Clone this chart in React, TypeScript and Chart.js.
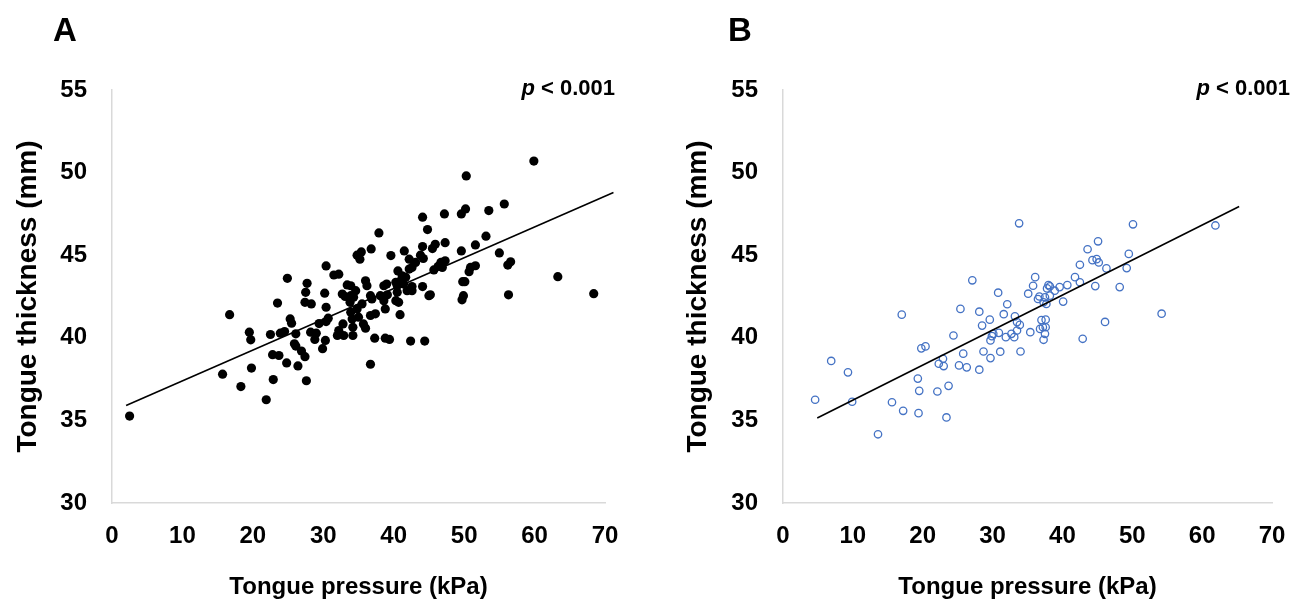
import React, { useEffect, useRef } from "react";
import { Chart, registerables } from "chart.js";
Chart.register(...registerables);

const FONT = '"Liberation Sans", Arial, Helvetica, sans-serif';

const xTicks = [0, 10, 20, 30, 40, 50, 60, 70];
const yTicks = [30, 35, 40, 45, 50, 55];
const xTitle = "Tongue pressure (kPa)";
const yTitle = "Tongue thickness (mm)";
const pText = " < 0.001";

// Panel A (black filled points)
const pressureA = [
  24.9, 30.4, 31.5, 32.2, 27.7, 27.5, 30.2, 33.4,
  2.5, 16.7, 19.5, 19.7, 15.7, 18.3, 19.8, 21.9, 22.9, 23.5, 22.5, 22.8, 23.7, 24.8, 23.9, 24.5, 25.3, 25.5, 26.1, 25.9,
  26.1, 26.9, 27.4, 26.4, 27.6, 27.4, 28.3, 30.4, 28.2, 29.0, 28.8, 29.4, 30.3, 29.9, 30.4, 30.7, 32.0, 32.2, 32.9, 34.2,
  32.8, 34.2, 32.7, 33.1, 33.8, 34.8, 35.0, 34.1,
  59.9, 50.3, 55.7, 53.5, 49.6, 50.2, 47.2, 44.1, 44.8, 37.9, 53.1, 47.3, 45.9, 45.5, 44.1, 49.6, 51.6, 55.0, 56.6, 56.2,
  36.8, 35.4, 34.8, 35.2, 39.6, 41.5, 42.2, 43.8, 44.2, 43.1, 42.6, 42.2, 46.7, 47.3, 46.3, 46.9, 45.7, 50.9, 51.6, 50.7,
  63.3, 40.6, 41.2, 41.7, 41.0, 40.3, 40.5, 36.0, 36.2, 38.6, 39.0, 41.4, 42.6, 44.1, 42.6, 41.9, 49.8, 50.1, 56.3, 68.4,
  49.9, 45.2, 45.0, 33.9, 34.6, 33.9, 36.7, 38.1, 39.1,
  49.7, 34.3, 36.9, 38.6, 40.5, 40.3, 40.7, 35.5, 33.9, 36.7, 37.4, 38.8, 40.9, 35.7, 36.0, 37.3, 38.8, 39.4, 42.4, 44.4,
  36.7,
];
const thicknessA = [
  43.6, 44.35, 43.8, 43.85, 43.3, 42.75, 42.7, 43.2,
  35.26, 41.4, 40.34, 39.88, 37.8, 37.05, 38.17, 36.25, 37.47, 42.1, 40.2, 38.98, 38.93, 38.48, 40.28, 40.38, 41.14, 40.88, 40.24, 39.64,
  39.5, 39.2, 38.86, 38.3, 37.4, 42.15, 42.05, 41.85, 40.34, 40.28, 39.9, 40.86, 39.84, 39.34, 40.98, 41.19, 40.14, 40.44, 40.14, 40.14,
  40.84, 40.64, 42.65, 42.5, 42.15, 41.75, 41.25, 41.14,
  50.7, 49.8, 48.1, 47.7, 47.5, 47.8, 47.5, 47.3, 46.55, 46.35, 46.15, 45.76, 45.66, 45.4, 45.52, 45.26, 45.62, 45.14, 44.6, 44.4,
  45.38, 45.2, 45.0, 44.76, 44.98, 45.26, 44.76, 45.0, 44.8, 44.56, 44.26, 44.16, 44.56, 44.66, 44.32, 44.26, 44.11, 44.26, 44.36, 44.0,
  43.7, 44.05, 43.75, 43.66, 43.45, 43.36, 43.15, 43.45, 43.15, 43.15, 43.25, 43.25, 43.1, 43.1, 42.85, 42.85, 43.4, 43.4, 42.6, 42.67,
  42.55, 42.6, 42.55, 43.15, 42.85, 42.55, 42.55, 42.55, 42.6,
  42.3, 42.45, 42.35, 42.25, 42.75, 42.25, 42.15, 42.05, 41.55, 41.35, 41.45, 41.75, 41.4, 40.84, 40.58, 39.98, 39.98, 39.9, 39.8, 39.8,
  38.4,
];
const trendAX = [2.0, 71.2];
const trendAY = [35.9, 48.8];

// Panel B (blue hollow points)
const pressureB = [
  33.8, 27.1, 17.0, 25.4, 28.1, 30.8, 32.1, 29.6, 31.6, 33.2, 33.5, 33.9, 28.5, 36.1, 35.8, 35.1, 36.5, 36.7,
  4.6, 6.9, 9.3, 9.9, 13.6, 15.6, 17.2, 19.4, 19.3, 19.5, 19.8, 20.4, 22.1, 23.4, 23.7, 22.3, 22.9, 23.0, 24.4, 25.2,
  26.3, 25.8, 28.1, 28.7, 29.7, 31.1, 34.0, 35.4, 29.7, 29.9, 30.1, 30.9, 31.9, 32.7, 33.1, 33.5, 36.8,
  50.1, 61.9, 45.1, 43.6, 49.5, 44.3, 44.9, 45.2, 42.5, 46.3, 49.2, 41.8, 42.5, 40.7, 39.6, 38.9, 44.7, 48.2, 38.0, 38.2,
  37.8, 37.5, 38.2, 37.3, 37.7, 40.1, 54.2, 46.1, 37.0, 37.6, 37.2, 37.6,
  42.9, 37.5, 37.3,
];
const thicknessB = [
  46.93, 43.48, 41.4, 41.75, 41.58, 42.73, 42.03, 41.1, 41.43, 41.3, 40.95, 40.78, 40.74, 43.67, 43.15, 42.67, 42.35, 42.5,
  36.25, 38.6, 37.91, 36.13, 34.16, 36.1, 35.58, 35.44, 37.53, 36.79, 39.36, 39.48, 36.75, 35.18, 37.09, 38.43, 38.73, 38.29, 40.14, 38.33,
  38.21, 39.04, 38.07, 39.17, 38.77, 39.16, 39.17, 40.34, 39.84, 40.1, 40.24, 40.3, 40.04, 40.24, 40.04, 40.44, 40.54,
  46.87, 46.8, 45.84, 45.36, 45.08, 44.7, 44.76, 44.56, 44.42, 44.2, 44.22, 43.67, 43.36, 43.19, 43.07, 42.85, 43.13, 43.07, 43.19, 43.11,
  42.99, 42.45, 42.55, 42.15, 42.05, 42.19, 41.46, 40.96, 41.07, 41.1, 40.64, 40.64,
  39.94, 40.24, 39.88,
];
const trendBX = [4.9, 65.3];
const trendBY = [35.15, 47.95];

type PanelProps = {
  left: number;
  width: number;
  yAxisWidth: number;
  padRight: number;
  letter: string;
  letterX: number;
  pRight: number;
  xs: number[];
  ys: number[];
  tx: number[];
  ty: number[];
  filled: boolean;
};

function Panel(p: PanelProps) {
  const ref = useRef<HTMLCanvasElement | null>(null);
  useEffect(() => {
    if (!ref.current) return;
    const annot = {
      id: "annot" + p.letter,
      afterDraw(chart: any) {
        const ctx = chart.ctx;
        ctx.save();
        ctx.fillStyle = "#000";
        ctx.textBaseline = "alphabetic";
        ctx.textAlign = "left";
        ctx.font = `bold 33px ${FONT}`;
        ctx.fillText(p.letter, p.letterX, 41);
        ctx.font = `bold 22px ${FONT}`;
        ctx.textAlign = "right";
        ctx.fillText(pText, p.pRight, 95);
        const w = ctx.measureText(pText).width;
        ctx.font = `italic bold 22px ${FONT}`;
        ctx.fillText("p", p.pRight - w, 95);
        ctx.restore();
      },
    };
    const tickFont = { family: FONT, size: 24, weight: "bold" as const };
    const yTitleFont = { family: FONT, size: 28, weight: "bold" as const };
    const chart = new Chart(ref.current, {
      type: "scatter",
      data: {
        datasets: [
          {
            data: p.tx.map((x, i) => ({ x, y: p.ty[i] })),
            showLine: true,
            borderColor: "#000",
            borderWidth: 1.6,
            pointRadius: 0,
            clip: false as any,
            order: 0,
          } as any,
          {
            data: p.xs.map((x, i) => ({ x, y: p.ys[i] })),
            pointRadius: p.filled ? 4.6 : 3.7,
            pointBackgroundColor: p.filled ? "#000" : "rgba(0,0,0,0)",
            pointBorderColor: p.filled ? "#000" : "#4472C4",
            pointBorderWidth: p.filled ? 0 : 1.3,
            order: 1,
          } as any,
        ],
      },
      options: {
        animation: false,
        responsive: false,
        events: [],
        layout: { padding: { top: 90, right: p.padRight, left: 0, bottom: 0 } },
        plugins: { legend: { display: false }, tooltip: { enabled: false } },
        scales: {
          x: {
            type: "linear",
            min: 0,
            max: 70,
            afterBuildTicks: (s: any) => {
              s.ticks = xTicks.map((v) => ({ value: v }));
            },
            afterFit: (s: any) => {
              s.height = 98;
            },
            grid: { display: false, drawTicks: false },
            border: { display: true, color: "#d9d9d9", width: 1.5 },
            ticks: { font: tickFont, color: "#000", padding: 19, maxRotation: 0, autoSkip: false },
            title: {
              display: true,
              text: xTitle,
              font: tickFont,
              color: "#000",
              padding: { top: 0, bottom: -1 },
            },
          },
          y: {
            type: "linear",
            min: 30,
            max: 55,
            afterBuildTicks: (s: any) => {
              s.ticks = yTicks.map((v) => ({ value: v }));
            },
            afterFit: (s: any) => {
              s.width = p.yAxisWidth;
            },
            grid: { display: false, drawTicks: false },
            border: { display: true, color: "#d9d9d9", width: 1.5 },
            ticks: { font: tickFont, color: "#000", padding: 25, autoSkip: false },
            title: {
              display: true,
              text: yTitle,
              font: yTitleFont,
              color: "#000",
              padding: { top: 11, bottom: 0 },
            },
          },
        },
      } as any,
      plugins: [annot],
    });
    return () => chart.destroy();
  }, []);
  return (
    <canvas
      ref={ref}
      width={p.width}
      height={601}
      style={{ position: "absolute", left: p.left, top: 0, width: p.width, height: 601 }}
    />
  );
}

export default function App() {
  return (
    <div style={{ position: "absolute", left: 0, top: 0, width: 1311, height: 601, background: "#fff" }}>
      <Panel
        left={0}
        width={670}
        yAxisWidth={112}
        padRight={65}
        letter="A"
        letterX={53}
        pRight={615}
        xs={pressureA}
        ys={thicknessA}
        tx={trendAX}
        ty={trendAY}
        filled={true}
      />
      <Panel
        left={670}
        width={641}
        yAxisWidth={113}
        padRight={39}
        letter="B"
        letterX={58}
        pRight={620}
        xs={pressureB}
        ys={thicknessB}
        tx={trendBX}
        ty={trendBY}
        filled={false}
      />
    </div>
  );
}
